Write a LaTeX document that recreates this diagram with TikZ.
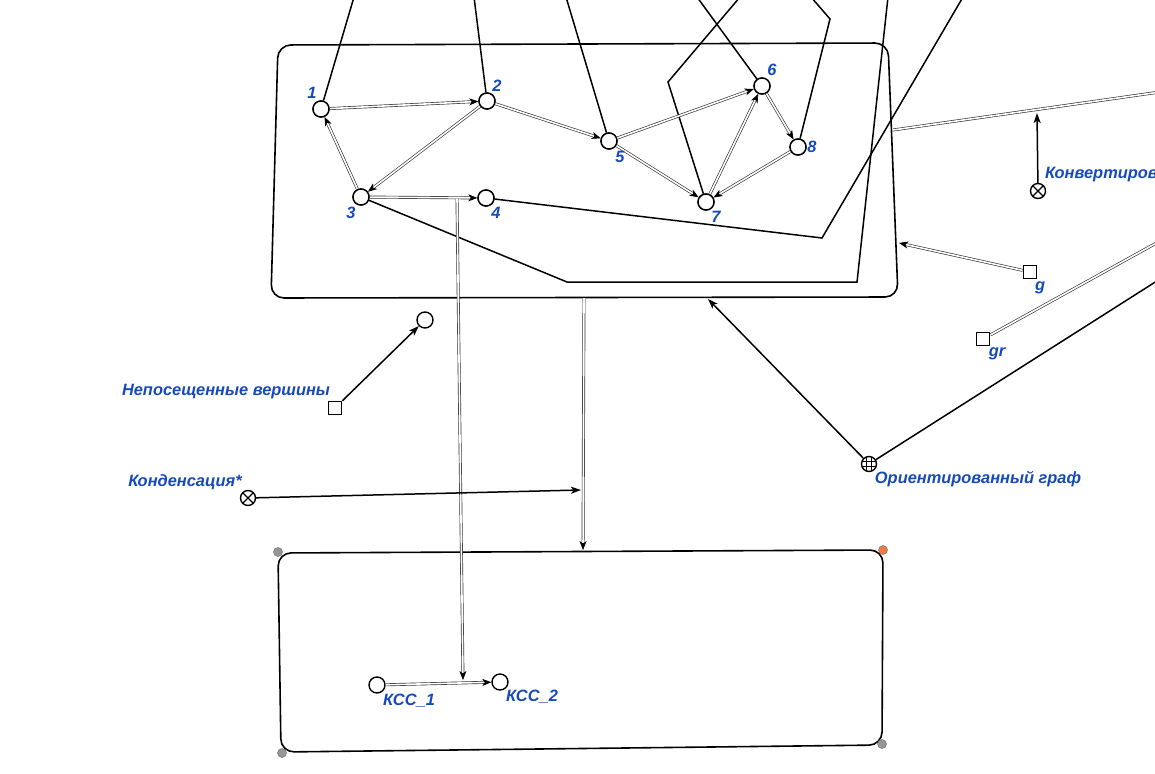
\documentclass[tikz,border=0pt]{standalone}
\usepackage{fontspec}
\setmainfont{Liberation Sans}
\usetikzlibrary{arrows.meta}
\definecolor{lblue}{RGB}{22,74,186}
\definecolor{handlegray}{RGB}{150,150,150}
\definecolor{handleorange}{RGB}{242,124,62}
\begin{document}
\begin{tikzpicture}[x=1pt,y=-1pt,
  box/.style={draw=black, line width=1.6pt, rounded corners=13pt},
  vtx/.style={circle, draw, line width=1.4pt, fill=white, minimum size=16pt, inner sep=0pt},
  sqr/.style={rectangle, draw, line width=1.4pt, fill=white, minimum size=13.5pt, inner sep=0pt},
  xcirc/.style={circle, draw, line width=1.4pt, fill=white, minimum size=15pt, inner sep=0pt,
    path picture={\draw[line width=1.2pt]
      ([shift={(-5.5pt,-5.5pt)}]path picture bounding box.center) -- ([shift={(5.5pt,5.5pt)}]path picture bounding box.center)
      ([shift={(-5.5pt,5.5pt)}]path picture bounding box.center) -- ([shift={(5.5pt,-5.5pt)}]path picture bounding box.center);}},
  globe/.style={circle, draw, line width=1.4pt, fill=white, minimum size=15pt, inner sep=0pt,
    path picture={\draw[line width=0.8pt]
      ([shift={(-8pt,-2.5pt)}]path picture bounding box.center) -- ([shift={(8pt,-2.5pt)}]path picture bounding box.center)
      ([shift={(-8pt,2.5pt)}]path picture bounding box.center) -- ([shift={(8pt,2.5pt)}]path picture bounding box.center)
      ([shift={(-2.5pt,-8pt)}]path picture bounding box.center) -- ([shift={(-2.5pt,8pt)}]path picture bounding box.center)
      ([shift={(2.5pt,-8pt)}]path picture bounding box.center) -- ([shift={(2.5pt,8pt)}]path picture bounding box.center);}},
  handle/.style={circle, fill=handlegray, draw=black!55, line width=0.5pt, minimum size=9pt, inner sep=0pt},
  lbl/.style={text=lblue, font=\fontsize{16.4}{18}\selectfont\bfseries\itshape, inner sep=0pt},
  ln/.style={draw=black, line width=1.5pt},
  arr/.style={ln, -{Stealth[length=10pt,width=7pt,inset=2.5pt]}},
  dbl/.style={draw=black!80, line width=0.65pt, double=white, double distance=1.6pt},
  dblarr/.style={dbl, -{Stealth[length=9pt,width=7pt,inset=2.5pt,black]}}
]
\path[use as bounding box] (0,0) rectangle (1155,773);
\clip (0,0) rectangle (1155,773);

% --- the two containers ---
\draw[box] (278,45) -- (888,43) -- (898,297) -- (271,298) -- cycle;
\draw[box] (278,553) -- (883,550) -- (882,745) -- (281,752) -- cycle;

% points on the container borders
\coordinate (b1bot) at (584,298);
\coordinate (b1or) at (708,299);
\coordinate (b1g) at (899,243);
\coordinate (b1out) at (893,130);
\coordinate (b2top) at (583,550);

% --- graph vertices ---
\node[vtx] (n1) at (321,109) {};
\node[vtx] (n2) at (487,101) {};
\node[vtx] (n3) at (361,197) {};
\node[vtx] (n4) at (486,198) {};
\node[vtx] (n5) at (609,141) {};
\node[vtx] (n6) at (762,86) {};
\node[vtx] (n7) at (706,202) {};
\node[vtx] (n8) at (798,147) {};

\node[vtx] (unv) at (425,320) {};
\node[vtx] (k1) at (377,685) {};
\node[vtx] (k2) at (500,682) {};

\node[sqr] (squnv) at (335,408) {};
\node[sqr] (sqg) at (1030,272) {};
\node[sqr] (sqgr) at (983,339) {};
\node[xcirc] (xcond) at (248,498) {};
\node[xcirc] (xconv) at (1038,191) {};
\node[globe] (gor) at (869,464) {};

% free ends outside the picture
\coordinate (o1) at (354,-3);
\coordinate (o2) at (474,-3);
\coordinate (o5) at (566,-3);
\coordinate (o6) at (697,-3);
\coordinate (o7a) at (668,82);
\coordinate (o7) at (740,-3);
\coordinate (o8a) at (830,19);
\coordinate (o8) at (811,-3);
\coordinate (o3a) at (567,282);
\coordinate (o3b) at (857,282);
\coordinate (o3) at (888,-3);
\coordinate (o4a) at (822,238);
\coordinate (o4) at (963,-3);
\coordinate (oright) at (1160,92);
\coordinate (ogr) at (1160,241);
\coordinate (oor) at (1160,279);

% --- plain connectors leaving the picture ---
\draw[ln] (n1) -- (o1);
\draw[ln] (n2) -- (o2);
\draw[ln] (n5) -- (o5);
\draw[ln] (n6) -- (o6);
\draw[ln] (n7) -- (o7a) -- (o7);
\draw[ln] (n8) -- (o8a) -- (o8);
\draw[ln] (n3) -- (o3a) -- (o3b) -- (o3);
\draw[ln] (n4) -- (o4a) -- (o4);
\draw[ln] (gor) -- (oor);

% --- double-lined arcs ---
\draw[dblarr] (n1) -- (n2);
\draw[dblarr] (n2) -- (n5);
\draw[dblarr] (n2) -- (n3);
\draw[dblarr] (n3) -- (n1);
\draw[dblarr] (n3) -- (n4);
\draw[dblarr] (n5) -- (n6);
\draw[dblarr] (n5) -- (n7);
\draw[dblarr] (n7) -- (n6);
\draw[dblarr] (n6) -- (n8);
\draw[dblarr] (n8) -- (n7);
\draw[dblarr] (k1) -- (k2);

\coordinate (e34) at (457,199);
\coordinate (ek12) at (463,680);
\draw[dblarr] (e34) -- (ek12);
\draw[dblarr] (b1bot) -- (b2top);
\draw[dblarr] (sqg) -- (b1g);
\draw[dbl] (sqgr) -- (ogr);
\draw[dbl] (b1out) -- (oright);

% --- single arrows ---
\coordinate (condt) at (581,490);
\coordinate (convt) at (1037,113);
\draw[arr] (squnv) -- (unv);
\draw[arr] (xcond) -- (condt);
\draw[arr] (xconv) -- (convt);
\draw[arr] (gor) -- (b1or);

% vertices once more, above the lines that cross them
\foreach \p in {(321,109),(487,101),(361,197),(486,198),(609,141),(762,86),(706,202),(798,147)}
  \node[vtx] at \p {};

% --- labels ---
\node[lbl] (t1) at (312,93) {1};
\node[lbl] (t2) at (497,86) {2};
\node[lbl] (t3) at (351,213) {3};
\node[lbl] (t4) at (496,213) {4};
\node[lbl] (t5) at (620,157) {5};
\node[lbl] (t6) at (772,70) {6};
\node[lbl] (t7) at (716,217) {7};
\node[lbl] (t8) at (812,147) {8};
\node[lbl] (tunv) at (226,392) {Непосещенные вершины};
\node[lbl] (tcond) at (185,482) {Конденсация*};
\node[lbl] (tor) at (978,479) {Ориентированный граф};
\node[lbl, anchor=west] (tconv) at (1045,175) {Конвертирование};
\node[lbl] (tg) at (1040,288) {g};
\node[lbl] (tgr) at (997,354) {gr};
\node[lbl] (tk1) at (409,701) {КСС\_1};
\node[lbl] (tk2) at (532,697) {КСС\_2};

% --- selection handles ---
\node[handle] (h1) at (278,552) {};
\node[handle, fill=handleorange] (h2) at (883,550) {};
\node[handle] (h3) at (282,753) {};
\node[handle] (h4) at (882,744) {};
\end{tikzpicture}
\end{document}
